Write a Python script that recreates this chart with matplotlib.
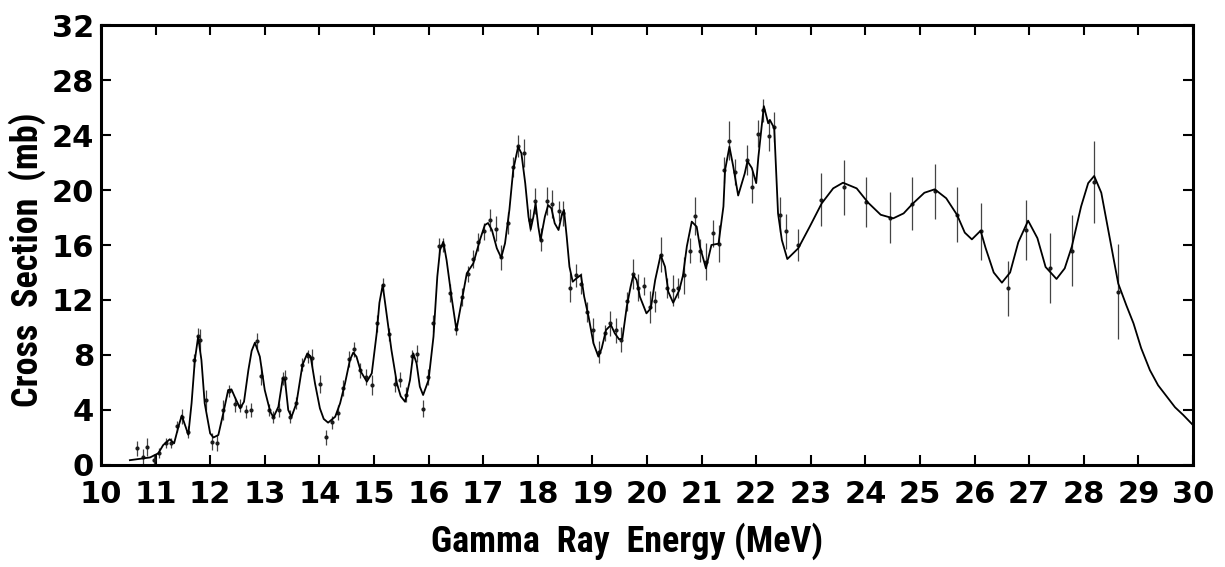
import matplotlib
matplotlib.use("Agg")
import matplotlib.pyplot as plt
from matplotlib import font_manager

# ---- measured data points (energy MeV, cross section mb, error half-length mb)
data_x = [10.66, 10.77, 10.85, 10.97, 11.06, 11.20, 11.28, 11.39, 11.48, 11.60,
          11.70, 11.77, 11.81, 11.92, 12.03, 12.12, 12.24, 12.35, 12.46, 12.55,
          12.65, 12.75, 12.85, 12.94, 13.07, 13.16, 13.27, 13.33, 13.37, 13.47,
          13.58, 13.69, 13.79, 13.87, 14.01, 14.12, 14.23, 14.34, 14.44, 14.55,
          14.63, 14.74, 14.85, 14.96, 15.06, 15.16, 15.27, 15.39, 15.48, 15.58,
          15.69, 15.78, 15.89, 15.99, 16.09, 16.20, 16.27, 16.39, 16.51, 16.62,
          16.72, 16.82, 16.91, 17.02, 17.12, 17.23, 17.33, 17.45, 17.55, 17.64,
          17.74, 17.85, 17.95, 18.06, 18.17, 18.26, 18.38, 18.47, 18.59, 18.70,
          18.80, 18.91, 19.02, 19.12, 19.23, 19.32, 19.43, 19.53, 19.64, 19.74,
          19.84, 19.94, 20.06, 20.15, 20.25, 20.37, 20.47, 20.57, 20.68, 20.79,
          20.88, 20.98, 21.08, 21.20, 21.31, 21.41, 21.51, 21.61, 21.83, 21.92,
          22.04, 22.13, 22.23, 22.33, 22.44, 22.55, 22.77, 23.18, 23.60, 24.02,
          24.45, 24.86, 25.27, 25.68, 26.11, 26.62, 26.95, 27.38, 27.78, 28.19,
          28.63]
data_y = [1.2, 0.6, 1.3, 0.35, 0.9, 1.6, 1.6, 2.8, 3.5, 2.4,
          7.6, 9.4, 9.1, 4.7, 1.7, 1.6, 4.0, 5.4, 4.4, 4.3,
          3.9, 4.0, 9.0, 6.5, 4.0, 3.5, 4.0, 6.3, 6.3, 3.5,
          4.5, 7.3, 7.9, 7.8, 5.9, 2.0, 3.1, 3.8, 5.6, 7.7,
          8.4, 6.9, 6.4, 5.8, 10.3, 13.1, 9.5, 5.9, 6.2, 5.1,
          7.9, 8.1, 4.1, 6.4, 10.3, 15.9, 16.0, 12.5, 9.9, 12.2,
          13.9, 15.0, 16.2, 17.0, 17.8, 17.2, 15.1, 17.6, 21.7, 23.2,
          22.7, 17.8, 19.2, 16.4, 19.2, 19.0, 18.5, 18.3, 12.9, 13.8,
          13.2, 11.1, 9.8, 8.2, 9.6, 10.3, 9.8, 9.1, 11.9, 13.9,
          12.9, 13.0, 11.5, 11.9, 15.3, 12.9, 12.7, 12.9, 13.8, 15.6,
          18.1, 15.6, 14.8, 16.85, 16.1, 21.45, 23.6, 21.3, 22.2, 20.2,
          24.1, 25.8, 23.9, 24.6, 18.2, 17.0, 16.0, 19.3, 20.2, 19.15,
          18.0, 19.0, 19.9, 18.2, 17.0, 12.85, 17.1, 14.3, 15.6, 20.6,
          12.6]
data_err = [0.57, 0.55, 0.67, 0.42, 0.36, 0.36, 0.36, 0.42, 0.55, 0.42,
            0.48, 0.55, 0.79, 0.73, 0.60, 0.55, 0.73, 0.42, 0.55, 0.48,
            0.48, 0.48, 0.60, 0.67, 0.42, 0.42, 0.48, 0.48, 0.60, 0.48,
            0.42, 0.48, 0.48, 0.67, 0.67, 0.55, 0.48, 0.55, 0.60, 0.60,
            0.55, 0.55, 0.55, 0.73, 0.60, 0.48, 0.48, 0.60, 0.55, 0.55,
            0.48, 0.60, 0.60, 0.55, 0.60, 0.60, 0.48, 0.67, 0.42, 0.67,
            0.60, 0.67, 0.67, 0.60, 0.79, 0.91, 0.91, 0.79, 0.73, 0.79,
            1.03, 0.79, 0.97, 0.85, 1.03, 1.03, 0.73, 0.91, 1.03, 0.85,
            0.79, 0.73, 0.91, 0.79, 0.60, 0.91, 0.91, 0.91, 0.67, 1.09,
            0.97, 0.67, 1.15, 0.79, 1.27, 0.73, 1.15, 0.73, 1.33, 0.91,
            1.39, 0.85, 1.33, 0.97, 1.33, 0.97, 1.45, 0.97, 1.09, 1.15,
            0.97, 0.85, 1.09, 1.09, 1.27, 1.27, 1.15, 1.94, 2.00, 1.82,
            1.88, 1.93, 2.00, 2.00, 2.07, 2.00, 2.20, 2.55, 2.55, 3.00,
            3.45]

# ---- fitted curve
curve_x = [10.53, 10.90, 11.05, 11.14, 11.26, 11.34, 11.42, 11.48, 11.54, 11.60,
           11.66, 11.72, 11.78, 11.84, 11.90, 12.00, 12.06, 12.15, 12.24, 12.33,
           12.39, 12.47, 12.55, 12.62, 12.70, 12.76, 12.82, 12.91, 13.00, 13.10,
           13.16, 13.25, 13.33, 13.37, 13.43, 13.49, 13.58, 13.69, 13.78, 13.84,
           13.92, 14.01, 14.08, 14.16, 14.29, 14.38, 14.47, 14.56, 14.62, 14.68,
           14.76, 14.87, 14.96, 15.05, 15.10, 15.16, 15.23, 15.32, 15.42, 15.49,
           15.57, 15.66, 15.72, 15.78, 15.84, 15.90, 16.00, 16.09, 16.16, 16.21,
           16.27, 16.33, 16.42, 16.51, 16.61, 16.70, 16.82, 16.94, 17.03, 17.09,
           17.16, 17.25, 17.33, 17.40, 17.48, 17.55, 17.64, 17.70, 17.77, 17.83,
           17.87, 17.92, 17.96, 18.01, 18.05, 18.13, 18.19, 18.25, 18.31, 18.38,
           18.44, 18.48, 18.53, 18.58, 18.64, 18.71, 18.79, 18.85, 18.93, 19.02,
           19.11, 19.17, 19.25, 19.34, 19.41, 19.49, 19.55, 19.63, 19.70, 19.75,
           19.81, 19.87, 19.99, 20.07, 20.15, 20.25, 20.33, 20.39, 20.48, 20.59,
           20.66, 20.73, 20.82, 20.91, 20.97, 21.08, 21.18, 21.31, 21.40, 21.43,
           21.51, 21.58, 21.67, 21.79, 21.84, 21.92, 22.00, 22.04, 22.10, 22.14,
           22.22, 22.25, 22.33, 22.36, 22.40, 22.47, 22.57, 22.77, 22.98, 23.20,
           23.41, 23.59, 23.84, 24.05, 24.28, 24.51, 24.70, 24.86, 25.08, 25.27,
           25.48, 25.68, 25.82, 25.95, 26.05, 26.11, 26.20, 26.35, 26.50, 26.65,
           26.80, 26.98, 27.15, 27.30, 27.50, 27.65, 27.78, 27.95, 28.08, 28.19,
           28.32, 28.48, 28.63, 28.78, 28.91, 29.05, 29.21, 29.36, 29.52, 29.67,
           29.82, 30.00]
curve_y = [0.35, 0.55, 0.85, 1.45, 1.87, 1.58, 2.80, 3.60, 2.90, 2.20,
           4.50, 7.64, 9.33, 7.64, 4.49, 2.30, 2.00, 2.18, 3.76, 5.45,
           5.50, 4.78, 4.12, 4.60, 6.90, 8.30, 8.90, 7.88, 5.45, 3.88,
           3.47, 4.24, 6.30, 6.20, 4.00, 3.50, 4.49, 7.27, 8.12, 7.90,
           5.94, 4.12, 3.35, 3.08, 3.51, 4.49, 5.94, 7.64, 8.17, 7.88,
           6.79, 6.06, 6.67, 9.58, 11.80, 13.09, 11.03, 8.36, 5.94, 5.00,
           4.60, 6.18, 8.12, 7.40, 5.70, 5.09, 6.18, 9.33, 13.70, 15.64,
           16.24, 14.90, 12.24, 9.82, 12.00, 13.94, 14.67, 16.36, 17.45, 17.60,
           17.09, 15.76, 15.08, 16.12, 18.55, 21.45, 23.15, 22.67, 20.50, 18.06,
           17.14, 18.06, 19.03, 17.33, 16.36, 18.06, 18.90, 18.67, 17.58, 17.09,
           18.18, 18.55, 16.60, 14.42, 13.33, 13.58, 13.82, 12.24, 10.79, 8.85,
           7.88, 8.48, 9.82, 10.18, 9.58, 9.14, 9.20, 11.52, 12.97, 13.82,
           13.45, 12.24, 11.03, 11.40, 13.45, 15.27, 14.42, 12.60, 11.80, 12.70,
           13.80, 15.90, 17.70, 17.33, 15.88, 14.30, 16.00, 16.10, 18.80, 21.45,
           23.15, 21.70, 19.60, 21.20, 22.10, 21.60, 20.50, 22.40, 24.60, 26.10,
           24.85, 25.10, 24.50, 21.90, 18.30, 16.36, 14.98, 15.76, 17.33, 19.03,
           20.12, 20.53, 20.12, 19.08, 18.20, 17.94, 18.30, 18.98, 19.80, 20.05,
           19.40, 18.18, 16.90, 16.41, 16.80, 17.04, 15.80, 14.00, 13.26, 14.00,
           16.20, 17.77, 16.50, 14.40, 13.53, 14.30, 15.88, 18.80, 20.50, 21.02,
           19.80, 16.40, 13.20, 11.60, 10.30, 8.50, 6.90, 5.80, 4.97, 4.20,
           3.64, 2.90]

x_ticks = list(range(10, 31))
y_ticks = [0, 4, 8, 12, 16, 20, 24, 28, 32]
x_label = "Gamma  Ray  Energy (MeV)"
y_label = "Cross  Section  (mb)"


def pick_family(cands):
    names = {f.name for f in font_manager.fontManager.ttflist}
    for c in cands:
        if c in names:
            return c
    return None


narrow = pick_family(['Liberation Sans Narrow', 'DejaVu Sans Condensed',
                      'Roboto Condensed', 'Open Sans Condensed', 'Noto Sans Condensed',
                      'Arial Narrow'])

fig = plt.figure(figsize=(12.25, 5.67), dpi=100)
ax = fig.add_axes([0.0824, 0.1799, 0.8915, 0.776])

ax.errorbar(data_x, data_y, yerr=data_err, fmt='o', ms=2.0, color='#1a1a1a',
            ecolor='#444444', elinewidth=0.9, capsize=0, zorder=2)
ax.plot(curve_x, curve_y, color='black', lw=1.3, zorder=3)

ax.set_xlim(10, 30)
ax.set_ylim(0, 32)
ax.set_xticks(x_ticks)
ax.set_yticks(y_ticks)
ax.tick_params(direction='in', length=7, width=1.5, top=True, right=True,
               labelsize=22)
ax.tick_params(axis='x', pad=11)
ax.tick_params(axis='y', pad=5)
for lab in ax.get_xticklabels() + ax.get_yticklabels():
    lab.set_fontweight('bold')
    lab.set_family(['DejaVu Sans'])
for s in ax.spines.values():
    s.set_linewidth(2.2)

if narrow is not None:
    lab_fam = [narrow, 'DejaVu Sans']
    lab_size = 26
else:
    lab_fam = ['Roboto', 'DejaVu Sans']
    lab_size = 23

ax.set_xlabel(x_label, fontsize=lab_size, fontweight='bold', family=lab_fam)
ax.set_ylabel(y_label, fontsize=lab_size, fontweight='bold', family=lab_fam)
ax.xaxis.set_label_coords(0.482, -0.13)
ax.yaxis.set_label_coords(-0.05, 0.466)

fig.savefig("out.png", dpi=100)
